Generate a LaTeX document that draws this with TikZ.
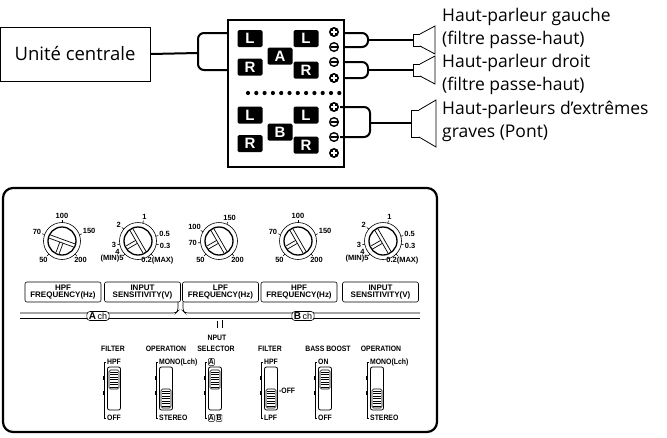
\documentclass[tikz,border=0pt]{standalone}
\usepackage{fontspec}
\setmainfont{Open Sans}
\newfontfamily\pf{Liberation Sans}
\newcommand\bx[1]{\tikz[baseline=(q.base)]\node[draw,line width=0.5pt,inner sep=0.6pt,rounded corners=0.8pt](q){#1};}
\begin{document}
\begin{tikzpicture}[x=1pt,y=-1pt,
 lab/.style={fill=black,text=white,rounded corners=1.5pt,minimum width=25pt,minimum height=17pt,inner sep=0,font=\pf\bfseries\fontsize{15}{15}\selectfont},
 wire/.style={line width=2pt,rounded corners=6pt},
 spk/.style={draw,line width=0.8pt,fill=white},
 txt/.style={anchor=west,font=\fontsize{17.5}{17.5}\selectfont,inner sep=0},
 tk/.style={font=\pf\bfseries\fontsize{7.5}{7.5}\selectfont,inner sep=0.5pt},
 sl/.style={font=\pf\bfseries\fontsize{7.8}{7.8}\selectfont,inner sep=0,xscale=0.88},
 lb/.style={draw,rounded corners=2pt,line width=0.6pt,minimum width=76pt,minimum height=20pt,inner sep=0,align=center,font=\pf\bfseries\fontsize{8}{7}\selectfont}]
\useasboundingbox (0,0) rectangle (667,437);
% ---------- top ----------
\node[draw,line width=1pt,minimum width=150pt,minimum height=54pt,font=\fontsize{18.5}{18.5}\selectfont] (cpu) at (75,54) {Unité centrale};
\node[draw,line width=1.2pt,minimum width=116pt,minimum height=147pt] (mod) at (286,93.5) {};
\coordinate (ja) at (198,53);
\draw[wire] (cpu.east) -- (ja);
\draw[wire] (228,33) -| (ja) |- (228,70);
\node[lab] (la) at (250,38.5) {L};
\node[lab] (ra) at (250,67) {R};
\node[lab] (lb) at (250,115) {L};
\node[lab] (rb) at (250,143.5) {R};
\node[lab] (A) at (280,56) {A};
\node[lab] (B) at (280,132) {B};
\node[lab] (la2) at (306,38.5) {L};
\node[lab] (ra2) at (306,70) {R};
\node[lab] (lb2) at (306,115) {L};
\node[lab] (rb2) at (306,145) {R};
\foreach \x in {0,...,11}{\fill (248+\x*8.3,93) circle (2.1pt);}
\foreach \y/\s in {32/p,47/m,62/m,78/p,107/p,122/m,137/m,153/p}{
 \if p\s
  \fill (334,\y) circle (5pt); \draw[white,line width=1.5pt] (331,\y)--(337,\y) (334,\y-3)--(334,\y+3);
 \else
  \draw[line width=1.4pt,fill=white] (334,\y) circle (4.3pt); \draw[line width=1.8pt] (330.5,\y)--(337.5,\y);
 \fi}
% right wires
\draw[wire] (344,33) -| (368,47) -- (344,47);
\draw[wire] (368,40) -- (413,40);
\draw[wire] (344,62) -| (368,78) -- (344,78);
\draw[wire] (368,70) -- (413,70);
\draw[wire] (340,107) -| (370,137) -- (340,137);
\draw[wire] (370,123) -- (411,123);
% speakers
\draw[spk] (413,34) rectangle (420,46);
\draw[spk] (420,34) -- (435,26) -- (435,54) -- (420,46);
\draw[spk] (413,64) rectangle (420,76);
\draw[spk] (420,64) -- (435,56) -- (435,84) -- (420,76);
\draw[spk] (411,110) rectangle (419,137);
\draw[spk] (419,110) -- (436,100) -- (436,147) -- (419,137);
\node[txt] (t1) at (442,17) {Haut-parleur gauche};
\node[txt] (t2) at (442,40) {(filtre passe-haut)};
\node[txt] (t3) at (442,63) {Haut-parleur droit};
\node[txt] (t4) at (442,86) {(filtre passe-haut)};
\node[txt] (t5) at (442,110) {Haut-parleurs d'extrêmes};
\node[txt] (t6) at (442,133) {graves (Pont)};
% ---------- panel ----------
\draw[line width=2.2pt,rounded corners=10pt] (3,188) rectangle (437,432);
% knobs
\foreach \cx/\ang/\k in {62/20/h,138/60/i,219/60/l,298/60/h,383/60/i}{
 \draw[line width=0.6pt] (\cx,241) circle (18.5pt);
 \draw[line width=1.3pt] (\cx,241) circle (14pt);
 \begin{scope}[shift={(\cx,241)},rotate=-\ang]
  \draw[line width=0.7pt] (-13,-1.7) -- (13,-1.7) (-13,1.7) -- (13,1.7);
  \draw[line width=0.7pt] (-1.7,1.7) -- (-1.7,12.5) (1.7,1.7) -- (1.7,13);
 \end{scope}
 \if h\k
  \foreach \a/\t in {90/100,160/70,20/150,225/50,-45/200}{
   \draw[line width=0.6pt] (\cx,241) ++(-\a:18.5) -- ++(-\a:2.5);
   \node[tk,anchor=\a+180] at ([shift={(-\a:21.5)}]\cx,241) {\t};}
 \fi
 \if i\k
  \foreach \a/\t in {75/1,140/2,15/0.5,-10/0.3,190/3,-45/0.2(MAX)}{
   \draw[line width=0.6pt] (\cx,241) ++(-\a:18.5) -- ++(-\a:2.5);
   \node[tk,anchor=\a+180] at ([shift={(-\a:21.5)}]\cx,241) {\t};}
  \draw[line width=0.6pt] (\cx,241) ++(-225:18.5) -- ++(-225:2.5);
  \node[tk,anchor=north east] at ([shift={(-225:19.5)}]\cx,241) {(MIN)5};
  \node[tk] at ([shift={(-207:23)}]\cx,241) {4};
 \fi
 \if l\k
  \foreach \a/\t in {65/150,150/100,185/70,225/50,-45/200}{
   \draw[line width=0.6pt] (\cx,241) ++(-\a:18.5) -- ++(-\a:2.5);
   \node[tk,anchor=\a+180] at ([shift={(-\a:21.5)}]\cx,241) {\t};}
 \fi}
\node[lb] (b1) at (63,292) {HPF\\FREQUENCY(Hz)};
\node[lb] (b2) at (142.5,292) {INPUT\\SENSITIVITY(V)};
\node[lb] (b3) at (220.5,292) {LPF\\FREQUENCY(Hz)};
\node[lb] (b4) at (299,292) {HPF\\FREQUENCY(Hz)};
\node[lb] (b5) at (380.5,292) {INPUT\\SENSITIVITY(V)};
% channel lines
\draw[line width=0.6pt,rounded corners=3pt] (20,313) -- (176,313) -- (178,311) -- (178,302);
\draw[line width=0.6pt] (20,318) -- (180,318);
\draw[line width=0.6pt,rounded corners=3pt] (183,302) -- (183,311) -- (185,313) -- (420,313);
\draw[line width=0.6pt] (180,318) -- (420,318);
\draw[line width=0.6pt] (217,321) -- (217,328) (222,320) -- (222,328);
\node[draw,fill=white,rounded corners=3pt,line width=0.6pt,inner xsep=2pt,inner ysep=1pt,font=\pf\fontsize{9}{9}\selectfont] (ach) at (98,316) {\textbf{\fontsize{10}{10}\selectfont A}\,ch};
\node[draw,fill=white,rounded corners=3pt,line width=0.6pt,inner xsep=2pt,inner ysep=1pt,font=\pf\fontsize{9}{9}\selectfont] (bch) at (303,316) {\textbf{\fontsize{10}{10}\selectfont B}\,ch};
% switches
\foreach \x/\tx/\pos/\ti/\tt/\bt in {114/113/t/FILTER/HPF/OFF,166/166/b/OPERATION/MONO(Lch)/STEREO,215/216/t/SELECTOR/\bx{A}/{\bx{A}\,\bx{B}},271/270/b/FILTER/HPF/LPF,325/328/t/BASS BOOST/ON/OFF,377/381/b/OPERATION/MONO(Lch)/STEREO}{
 \draw[line width=0.8pt,rounded corners=2pt] (\x-6.5,367) rectangle (\x+6.5,410);
 \if t\pos
  \draw[line width=0.6pt,rounded corners=1.5pt] (\x-5,370) rectangle (\x+5,389);
  \foreach \s in {0,...,6}{\draw[line width=0.5pt] (\x-4,372+\s*2.5) -- (\x+4,372+\s*2.5);}
 \else
  \draw[line width=0.6pt,rounded corners=1.5pt] (\x-5,389) rectangle (\x+5,408);
  \foreach \s in {0,...,6}{\draw[line width=0.5pt] (\x-4,391+\s*2.5) -- (\x+4,391+\s*2.5);}
 \fi
 \draw[line width=0.6pt] (\x-8,362) -- (\x-10,362) -- (\x-10,418) -- (\x-8,418);
 \draw[line width=1.6pt] (\x-10,376) -- (\x-10,380) (\x-10,391) -- (\x-10,395);
 \node[sl,anchor=west] at (\x-7,362) {\tt};
 \node[sl,anchor=west] at (\x-7,418) {\bt};
 \node[sl] at (\tx,349) {\ti};}
\node[sl] (np) at (217,338) {NPUT};
\node[sl,anchor=west] (off) at (279,391) {-OFF};
\end{tikzpicture}
\end{document}
